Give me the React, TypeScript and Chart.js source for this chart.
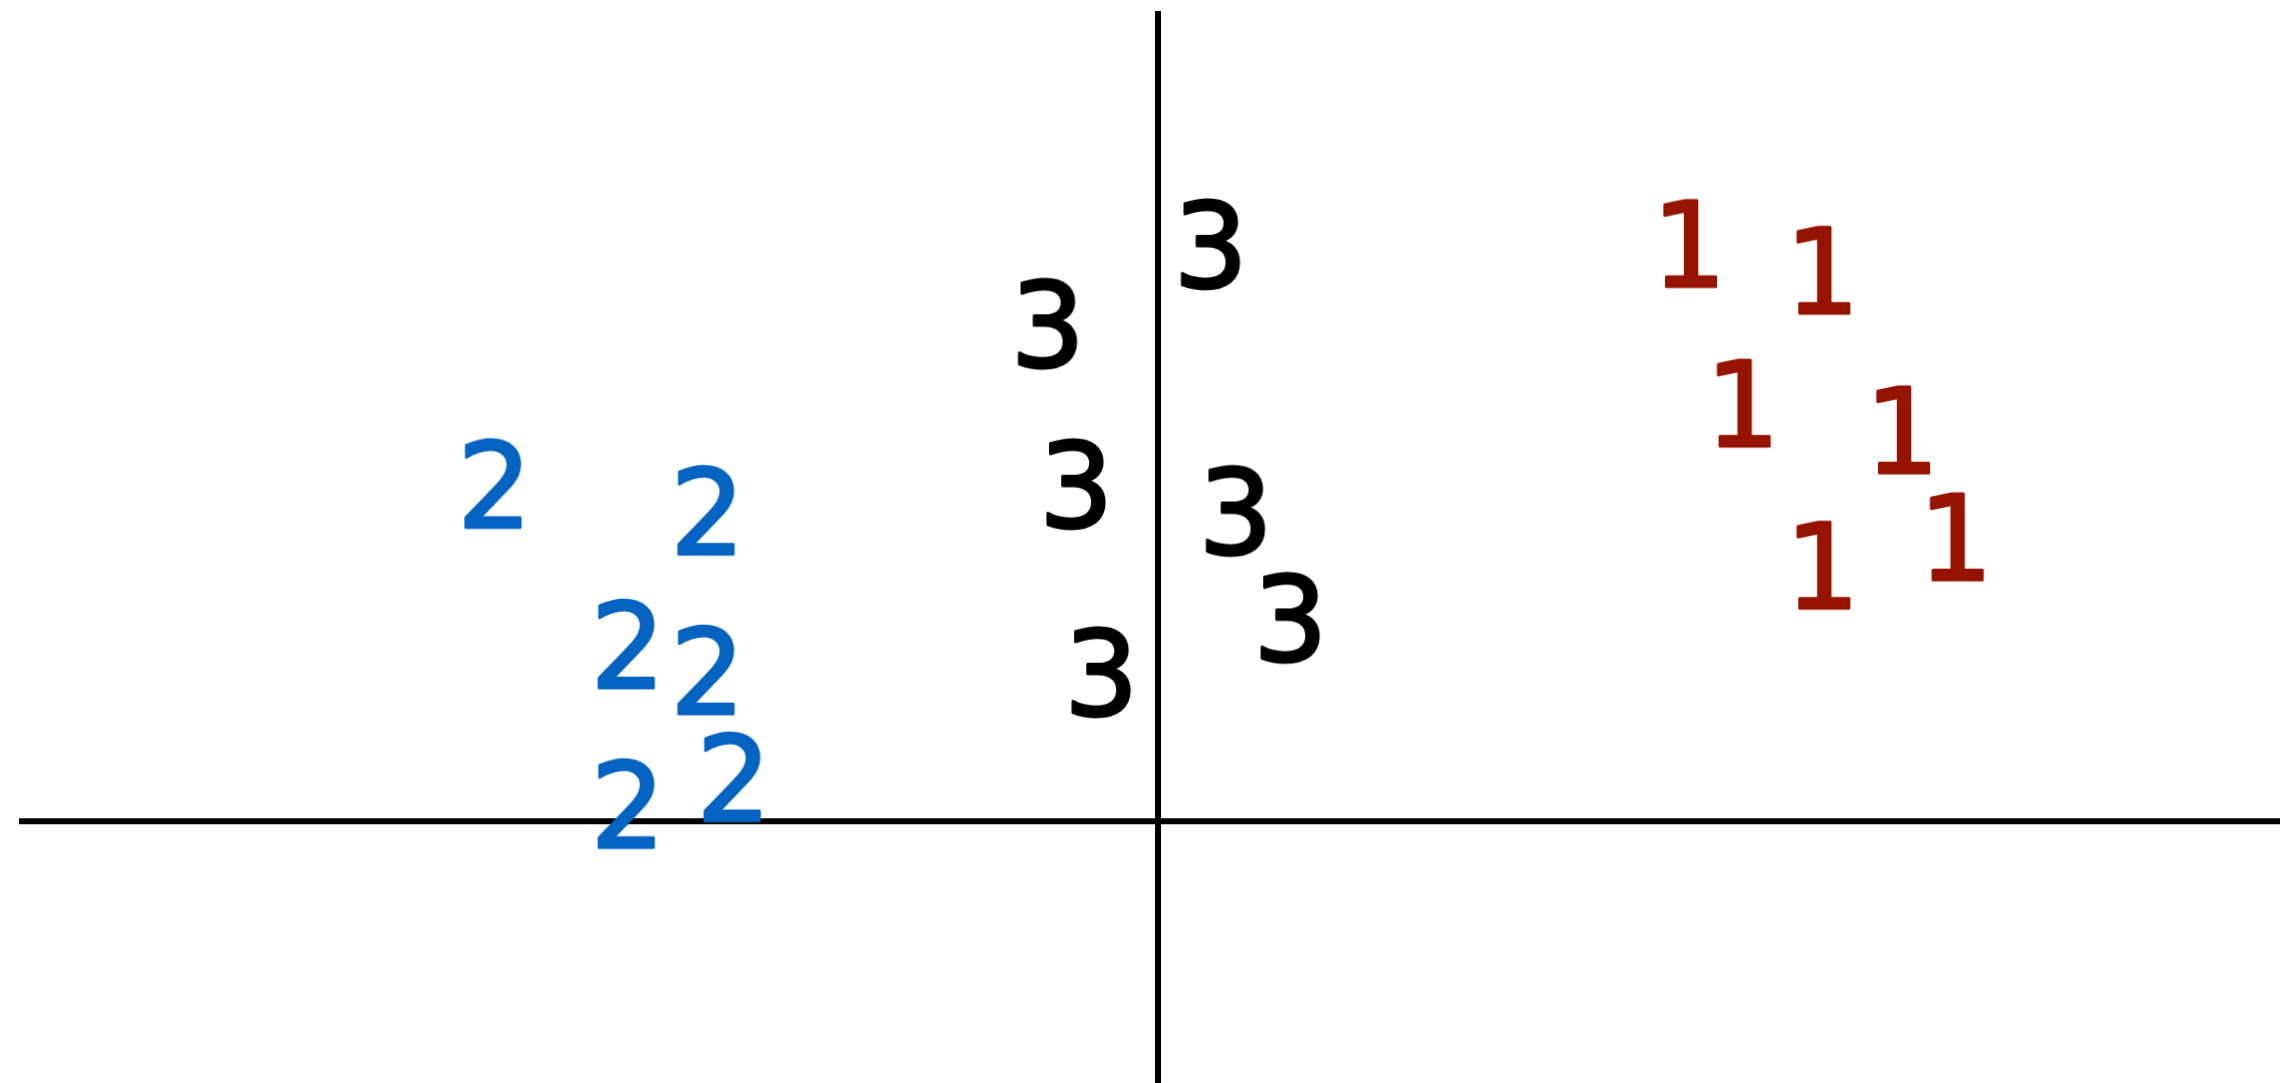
import React, { useEffect, useRef } from "react";
import { Chart, registerables } from "chart.js";

Chart.register(...registerables);

// Cluster 1 (red)
const cluster1X = [4.67, 5.84, 5.14, 6.54, 5.84, 7.01];
const cluster1Y = [7.13, 6.8, 5.16, 4.83, 3.16, 3.51];
// Cluster 2 (blue)
const cluster2X = [-5.84, -3.97, -4.67, -3.97, -4.67, -3.74];
const cluster2Y = [4.17, 3.84, 2.19, 1.87, 0.22, 0.55];
// Cluster 3 (black)
const cluster3X = [0.46, -0.97, -0.72, 0.68, 1.16, -0.5];
const cluster3Y = [7.12, 6.14, 4.16, 3.83, 2.51, 1.84];

const clusterLabels = ["1", "2", "3"];
const clusterColors = ["#961300", "#0563C1", "#000000"];

const X_MIN = -10;
const X_MAX = 9.85;
const Y_MIN = -3.23;
const Y_MAX = 10;

const DIGIT_FONT_PX = 117;
const DIGIT_STROKE = 3;
const AXIS_WIDTH = 6;

// Renders a digit onto a small canvas with its ink centred, for use as a point style.
function digitMarker(text: string, color: string): HTMLCanvasElement {
  const font = `${DIGIT_FONT_PX}px "DejaVu Sans", sans-serif`;
  const c = document.createElement("canvas");
  const probe = c.getContext("2d")!;
  probe.font = font;
  const mt = probe.measureText(text);
  const w = mt.actualBoundingBoxLeft + mt.actualBoundingBoxRight;
  const h = mt.actualBoundingBoxAscent + mt.actualBoundingBoxDescent;
  const pad = 6;
  c.width = Math.ceil(w + pad * 2);
  c.height = Math.ceil(h + pad * 2);
  const ctx = c.getContext("2d")!;
  ctx.font = font;
  ctx.fillStyle = color;
  ctx.strokeStyle = color;
  ctx.lineWidth = DIGIT_STROKE;
  ctx.lineJoin = "round";
  ctx.textBaseline = "alphabetic";
  const tx = pad + mt.actualBoundingBoxLeft;
  const ty = pad + mt.actualBoundingBoxAscent;
  ctx.fillText(text, tx, ty);
  ctx.strokeText(text, tx, ty);
  return c;
}

function toPoints(xs: number[], ys: number[]) {
  return xs.map((x, i) => ({ x, y: ys[i] }));
}

// Draws the two axes crossing at the origin, spanning the whole chart area.
const originAxes = {
  id: "originAxes",
  beforeDatasetsDraw(chart: any) {
    const { ctx, chartArea, scales } = chart;
    const x0 = scales.x.getPixelForValue(0);
    const y0 = scales.y.getPixelForValue(0);
    ctx.save();
    ctx.strokeStyle = "#000000";
    ctx.lineWidth = AXIS_WIDTH;
    ctx.beginPath();
    ctx.moveTo(chartArea.left, y0);
    ctx.lineTo(chartArea.right, y0);
    ctx.moveTo(x0, chartArea.top);
    ctx.lineTo(x0, chartArea.bottom);
    ctx.stroke();
    ctx.restore();
  },
};

export default function App() {
  const canvasRef = useRef<HTMLCanvasElement | null>(null);

  useEffect(() => {
    if (!canvasRef.current) return;
    const series = [
      toPoints(cluster1X, cluster1Y),
      toPoints(cluster2X, cluster2Y),
      toPoints(cluster3X, cluster3Y),
    ];
    const chart = new Chart(canvasRef.current, {
      type: "scatter",
      data: {
        datasets: series.map((data, i) => ({
          label: clusterLabels[i],
          data,
          pointStyle: digitMarker(clusterLabels[i], clusterColors[i]),
          pointRadius: 30,
          clip: false as any,
        })),
      },
      options: {
        animation: false,
        responsive: true,
        maintainAspectRatio: false,
        layout: { autoPadding: false, padding: { left: 19, top: 11, right: 0, bottom: 0 } },
        plugins: {
          legend: { display: false },
          tooltip: { enabled: false },
        },
        scales: {
          x: {
            type: "linear",
            display: false,
            min: X_MIN,
            max: X_MAX,
          },
          y: {
            type: "linear",
            display: false,
            min: Y_MIN,
            max: Y_MAX,
          },
        },
      },
      plugins: [originAxes],
    });
    return () => chart.destroy();
  }, []);

  return (
    <div
      style={{
        position: "fixed",
        left: 0,
        top: 0,
        width: "2280px",
        height: "1083px",
        background: "#ffffff",
      }}
    >
      <canvas ref={canvasRef} />
    </div>
  );
}
